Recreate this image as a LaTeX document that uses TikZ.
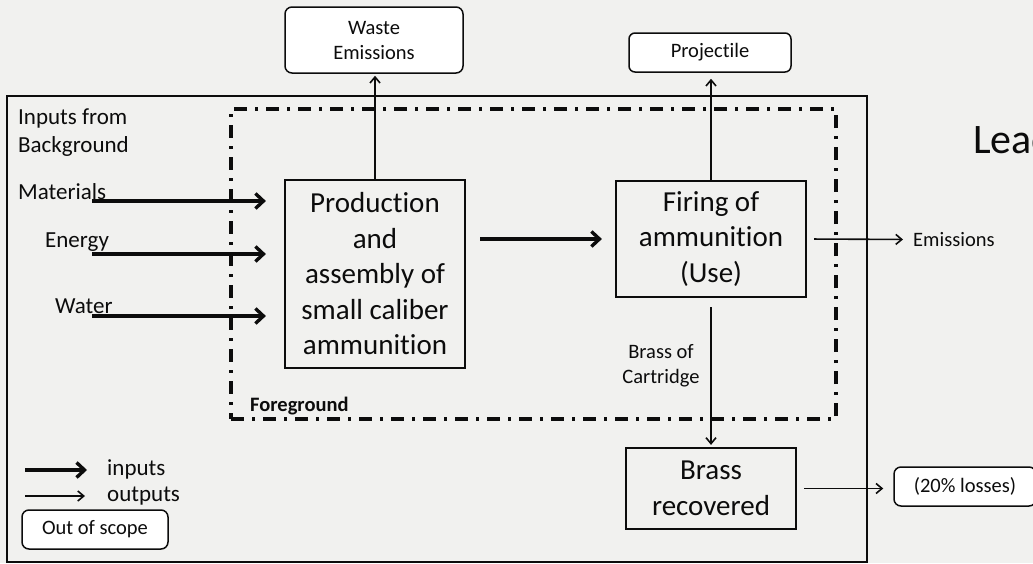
\documentclass[tikz,border=0pt]{standalone}
\usepackage{fontspec}
\setmainfont{Carlito}[Ligatures=NoCommon]
\usetikzlibrary{arrows.meta,calc}
\definecolor{paper}{RGB}{241,241,239}
\definecolor{ink}{RGB}{12,12,12}
\begin{document}
\begin{tikzpicture}[x=1pt,y=-1pt,
  every node/.style={text=ink},
  bigfont/.style={font=\fontsize{29}{35.5}\selectfont},
  midfont/.style={font=\fontsize{23}{28}\selectfont},
  smallfont/.style={font=\fontsize{20.5}{25}\selectfont},
  procbox/.style={draw=ink, line width=2.2pt, bigfont, align=center, inner sep=0pt},
  outbox/.style={draw=ink, fill=white, line width=1.5pt, rounded corners=7pt, smallfont, align=center, inner sep=0pt},
  inarrow/.style={draw=ink, line width=3.4pt, -{Straight Barb[length=8pt,width=15pt]}},
  outarrow/.style={draw=ink, line width=1.6pt, -{Straight Barb[length=6pt,width=10pt]}},
  scopeframe/.style={draw=ink, line width=2.8pt, inner sep=0pt},
  fgframe/.style={draw=ink, line width=3.2pt, dash pattern=on 13pt off 8pt on 3pt off 8pt, inner sep=0pt},
  sidelabel/.style={inner sep=0pt, midfont}
]
% page and paper
\useasboundingbox (0,0) rectangle (1033,563);
\fill[paper] (0,0) rectangle (1033,563);

% system boundaries
\node[scopeframe, minimum width=860pt, minimum height=466pt] (outer) at (437,329) {};
\node[fgframe, minimum width=605pt, minimum height=310pt] (fg) at (533.5,264) {};

% processes
\node[procbox, minimum width=180pt, minimum height=188pt] (prod) at (375,274)
  {Production\\and\\assembly of\\small caliber\\ammunition};
\node[procbox, minimum width=190pt, minimum height=116pt] (fire) at (711,239)
  {Firing of\\ammunition\\(Use)};
\node[procbox, minimum width=170pt, minimum height=81pt] (brass) at (711,488.5)
  {Brass\\recovered};

% out-of-scope flows
\node[outbox, minimum width=178pt, minimum height=66pt] (waste) at (374,40) {Waste\\Emissions};
\node[outbox, minimum width=162pt, minimum height=39pt, rounded corners=6pt] (proj) at (710,52.5) {Projectile};
\node[outbox, minimum width=142pt, minimum height=39pt] (loss) at (965,486.5) {(20\% losses)};

% background inputs
\node[sidelabel, anchor=north west, align=left] (bgin) at (18,109) {Inputs from\\Background};
\node[sidelabel, anchor=base west] (mat) at (18,199) {Materials};
\node[sidelabel, anchor=base west] (ene) at (45,247) {Energy};
\node[sidelabel, anchor=base west] (wat) at (55,313) {Water};
\coordinate (matA) at (92,201);
\coordinate (eneA) at (92,254);
\coordinate (watA) at (92,316);
\draw[inarrow, shorten >=18pt] (matA) -- (matA -| prod.west);
\draw[inarrow, shorten >=18pt] (eneA) -- (eneA -| prod.west);
\draw[inarrow, shorten >=18pt] (watA) -- (watA -| prod.west);

% flows between processes
\draw[inarrow, shorten <=14pt, shorten >=13pt] (prod.east |- fire.west) -- (fire.west);
\draw[outarrow, shorten >=2pt] (prod.north) -- (prod.north |- waste.south);
\draw[outarrow, shorten >=6pt] (fire.north) -- (fire.north |- proj.south);
\node[smallfont, anchor=west, inner sep=0pt] (emis) at (913,239.5) {Emissions};
\draw[outarrow, shorten <=7pt, shorten >=10pt] (fire.east) -- (emis.west);
\node[smallfont, align=center, anchor=north, inner sep=0pt] (cart) at (661,344) {Brass of\\Cartridge};
\draw[outarrow, shorten <=9pt, shorten >=2pt] (fire.south) -- (brass.north);
\draw[outarrow, shorten <=7pt, shorten >=10pt] (brass.east) -- (brass.east -| loss.west);

% boundary label and heading
\node[font=\fontsize{20.5}{25}\selectfont\bfseries, anchor=base west, inner sep=0pt] (fgname) at (250,411) {Foreground};
\node[font=\fontsize{42}{50}\selectfont, anchor=base west, inner sep=0pt] (lead) at (973,153) {Lead};

% legend
\coordinate (legIa) at (25,470);
\coordinate (legIb) at (87,470);
\coordinate (legOa) at (25,496);
\coordinate (legOb) at (85,496);
\draw[inarrow] (legIa) -- (legIb);
\draw[outarrow] (legOa) -- (legOb);
\node[sidelabel, anchor=base west] (legin) at (107,475) {inputs};
\node[sidelabel, anchor=base west] (legout) at (107,501) {outputs};
\node[outbox, minimum width=146pt, minimum height=39pt] (oos) at (95,529.5) {Out of scope};
\end{tikzpicture}
\end{document}
